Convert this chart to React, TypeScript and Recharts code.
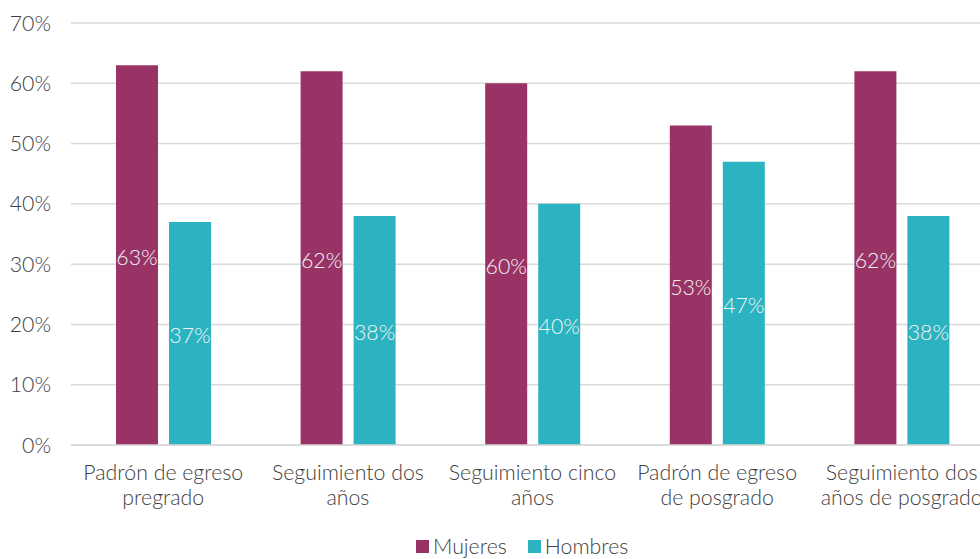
import React from 'react';
import { BarChart, Bar, XAxis, YAxis, CartesianGrid, Legend, LabelList } from 'recharts';

const categories = [
  'Padrón de egreso pregrado',
  'Seguimiento dos años',
  'Seguimiento cinco años',
  'Padrón de egreso de posgrado',
  'Seguimiento dos años de posgrado',
];
const categoryLines: string[][] = [
  ['Padrón de egreso', 'pregrado'],
  ['Seguimiento dos', 'años'],
  ['Seguimiento cinco', 'años'],
  ['Padrón de egreso', 'de posgrado'],
  ['Seguimiento dos', 'años de posgrado'],
];
const mujeres = [63, 62, 60, 53, 62];
const hombres = [37, 38, 40, 47, 38];
const yTicks = [0, 10, 20, 30, 40, 50, 60, 70];
const seriesNames = ['Mujeres', 'Hombres'];

const COLOR_M = '#993366';
const COLOR_H = '#2BB3C1';
const TEXT = '#404040';
const FONT = 'Lato, "Open Sans", sans-serif';
const FS = 21.3;

const data = categories.map((c, i) => ({
  name: c,
  Mujeres: mujeres[i],
  Hombres: hombres[i],
}));

const XTick = (props: any) => {
  const { x, y, index } = props;
  const lines = categoryLines[index] || [];
  return (
    <text
      x={x}
      y={y + 35}
      textAnchor="middle"
      fill={TEXT}
      fontSize={FS}
      fontWeight={300}
      fontFamily={FONT}
    >
      {lines.map((l, i) => (
        <tspan key={i} x={x} dy={i === 0 ? 0 : 25}>
          {l}
        </tspan>
      ))}
    </text>
  );
};

const LegendContent = () => {
  const colors = [COLOR_M, COLOR_H];
  return (
    <div style={{ display: 'flex', alignItems: 'center', fontFamily: FONT, fontWeight: 300, fontSize: FS, color: TEXT, whiteSpace: 'nowrap' }}>
      {seriesNames.map((n, i) => (
        <div key={n} style={{ display: 'flex', alignItems: 'center', marginRight: i === 0 ? 21 : 0 }}>
          <span style={{ display: 'inline-block', width: 13, height: 13, background: colors[i], marginRight: 4 }} />
          <span>{n}</span>
        </div>
      ))}
    </div>
  );
};

export default function App() {
  return (
    <div style={{ position: 'absolute', left: 0, top: 0, width: 980, height: 559, overflow: 'hidden', background: '#fff' }}>
      <BarChart
        width={1000}
        height={559}
        data={data}
        margin={{ top: 23, right: 6, bottom: 0, left: 0 }}
        barGap={11}
        barSize={42}
      >
        <CartesianGrid vertical={false} stroke="#D9D9D9" strokeWidth={1.5} />
        <XAxis
          dataKey="name"
          height={114}
          tickLine={false}
          tickSize={0}
          tickMargin={0}
          axisLine={{ stroke: '#D9D9D9', strokeWidth: 1.5 }}
          tick={<XTick />}
          interval={0}
        />
        <YAxis
          width={71}
          domain={[0, 70]}
          ticks={yTicks}
          axisLine={false}
          tickLine={false}
          tickSize={0}
          tickMargin={20}
          tickFormatter={(v: number) => `${v}%`}
          tick={{ fill: TEXT, fontSize: FS, fontWeight: 300, fontFamily: FONT }}
        />
        <Legend
          verticalAlign="middle"
          align="center"
          layout="horizontal"
          content={<LegendContent />}
          wrapperStyle={{ position: 'absolute', left: 416, top: 533, width: 280 }}
        />
        <Bar dataKey="Mujeres" fill={COLOR_M} isAnimationActive={false}>
          <LabelList
            dataKey="Mujeres"
            position="center"
            formatter={(v: number) => `${v}%`}
            fill="#F3F3F3"
            fontSize={FS}
            fontWeight={300}
            fontFamily={FONT}
            dy={2}
          />
        </Bar>
        <Bar dataKey="Hombres" fill={COLOR_H} isAnimationActive={false}>
          <LabelList
            dataKey="Hombres"
            position="center"
            formatter={(v: number) => `${v}%`}
            fill="#F3F3F3"
            fontSize={FS}
            fontWeight={300}
            fontFamily={FONT}
            dy={2}
          />
        </Bar>
      </BarChart>
    </div>
  );
}
